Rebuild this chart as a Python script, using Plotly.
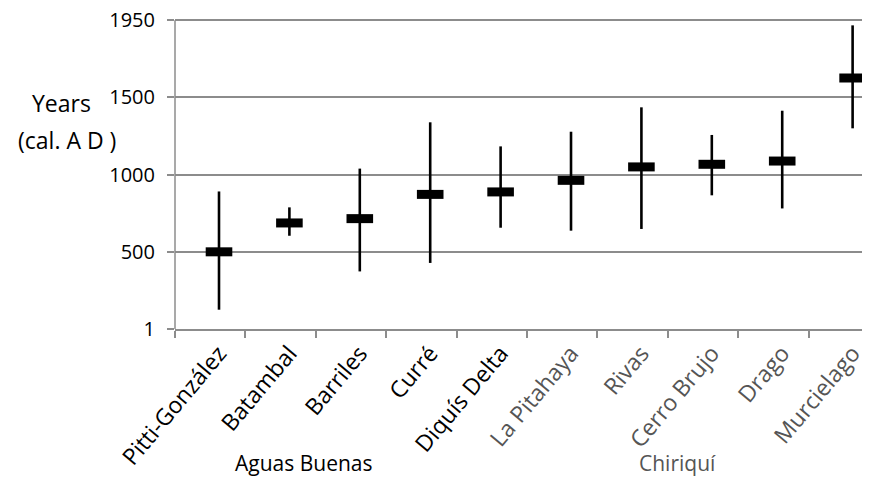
import plotly.graph_objects as go

sites = ["Pitti-González", "Batambal", "Barriles", "Curré", "Diquís Delta",
         "La Pitahaya", "Rivas", "Cerro Brujo", "Drago", "Murcielago"]
region = ["Aguas Buenas"] * 5 + ["Chiriquí"] * 5
mid = [500, 687, 715, 872, 888, 963, 1050, 1067, 1088, 1626]
low = [125, 604, 373, 428, 656, 637, 648, 866, 781, 1300]
high = [891, 788, 1039, 1339, 1183, 1278, 1436, 1257, 1414, 1967]
ytick_vals = [0, 500, 1000, 1500, 2000]
ytick_text = ["1", "500", "1000", "1500", "1950"]

GRID = "#8c8c8c"
GRAY = "#555555"
FONT = "Open Sans"

xpos = list(range(len(sites)))
ticktext = [s if r == "Aguas Buenas" else f'<span style="color:{GRAY}">{s}</span>'
            for s, r in zip(sites, region)]

fig = go.Figure()
fig.add_trace(go.Scatter(
    x=xpos, y=mid, mode="markers",
    marker=dict(symbol="line-ew", size=19, color="black",
                line=dict(width=9, color="black")),
    error_y=dict(type="data", symmetric=False,
                 array=[h - m for h, m in zip(high, mid)],
                 arrayminus=[m - l for m, l in zip(mid, low)],
                 color="black", thickness=2.6, width=0),
    showlegend=False, hoverinfo="skip",
))

YMAX = 2060
# page body has an 8px margin, so the figure is 862x474 placed at (8, 8)
fig.update_layout(
    width=862, height=474,
    margin=dict(l=167, r=0, t=3, b=153),
    paper_bgcolor="white", plot_bgcolor="white",
    font=dict(family=FONT, color="black"),
    xaxis=dict(
        type="linear", range=[-0.625, 9.247], automargin=False,
        tickmode="array", tickvals=xpos, ticktext=ticktext,
        tickangle=-50, ticks="", showgrid=False, zeroline=False,
        showline=True, linecolor=GRID, linewidth=1.5,
        tickfont=dict(family=FONT, size=23, color="black"),
        minor=dict(tickmode="array", tickvals=[i - 0.625 for i in xpos],
                   ticks="outside", ticklen=7, tickcolor=GRID, tickwidth=1.5,
                   showgrid=False),
    ),
    yaxis=dict(
        range=[0, YMAX], automargin=False,
        tickmode="array", tickvals=ytick_vals, ticktext=ytick_text,
        ticklabeloverflow="allow",
        showgrid=True, gridcolor=GRID, gridwidth=1.5, zeroline=False,
        showline=False,
        ticks="outside", ticklen=7, tickcolor=GRID, tickwidth=1.5,
        ticklabelstandoff=8,
        tickfont=dict(family=FONT, size=20, color="black"),
    ),
    annotations=[
        dict(text="Years", x=-0.164, y=0.7305 * 2000 / YMAX, xref="paper", yref="paper",
             xanchor="center", yanchor="middle",
             showarrow=False, font=dict(family=FONT, size=23, color="black")),
        dict(text="(cal. A D )", x=-0.155, y=0.612 * 2000 / YMAX, xref="paper", yref="paper",
             xanchor="center", yanchor="middle",
             showarrow=False, font=dict(family=FONT, size=23, color="black")),
        dict(text="Aguas Buenas", x=0.1856, y=-0.435 * 2000 / YMAX, xref="paper", yref="paper",
             xanchor="center", yanchor="middle",
             showarrow=False, font=dict(family=FONT, size=21, color="black")),
        dict(text="Chiriquí", x=0.7237, y=-0.435 * 2000 / YMAX, xref="paper", yref="paper",
             xanchor="center", yanchor="middle",
             showarrow=False, font=dict(family=FONT, size=21, color=GRAY)),
    ],
    shapes=[dict(type="line", xref="paper", yref="y", x0=0, x1=0, y0=0, y1=2000,
                 line=dict(color=GRID, width=1.5))],
)

fig.write_html("out.html")
